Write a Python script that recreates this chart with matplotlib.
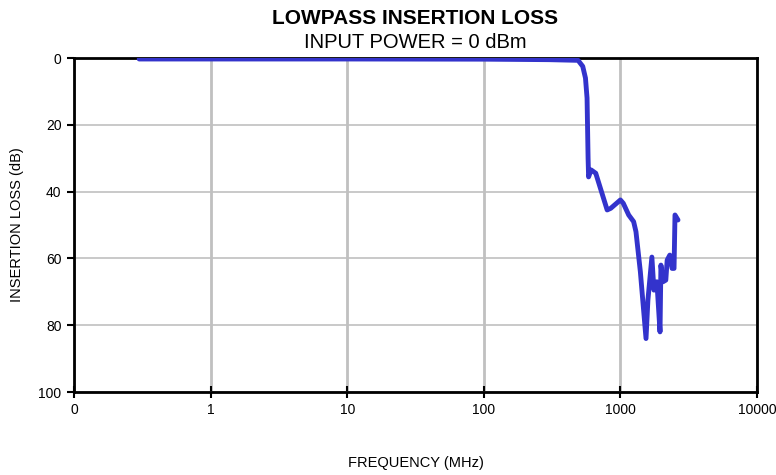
import matplotlib
matplotlib.use("Agg")
import matplotlib.pyplot as plt
from matplotlib.ticker import FixedLocator, NullLocator

plt.rcParams['font.family'] = ['Liberation Sans', 'DejaVu Sans']

# Frequency (MHz) and insertion loss (dB)
freq = [0.3, 1, 10, 100, 300, 490, 530, 555, 570, 580, 585, 610, 660,
        800, 850, 1000, 1050, 1150, 1250, 1300, 1400, 1540, 1590, 1700,
        1760, 1850, 1950, 1980, 2050, 2150, 2200, 2300, 2390, 2470, 2510, 2640]
loss = [0.3, 0.3, 0.3, 0.35, 0.5, 0.7, 2.5, 6, 12, 30, 35.6, 33.5, 34.5,
        45.5, 45, 42.5, 43.5, 47, 49, 52, 64, 84, 72.5, 59.6,
        69.5, 67, 82, 62, 67, 66.5, 60.5, 59, 63, 63, 47, 48.5]

x_ticks = [0.1, 1, 10, 100, 1000, 10000]
x_labels = ['0', '1', '10', '100', '1000', '10000']
y_ticks = [0, 20, 40, 60, 80, 100]

fig = plt.figure(figsize=(7.76, 4.75), dpi=100)
ax = fig.add_axes([74/776, 1-392/475, (757-74)/776, (392-58)/475])

ax.plot(freq, loss, color='#3333cc', linewidth=3.5, solid_joinstyle='round',
        solid_capstyle='round', zorder=3)

ax.set_xscale('log')
ax.set_xlim(0.1, 10000)
ax.set_ylim(100, 0)
ax.xaxis.set_major_locator(FixedLocator(x_ticks))
ax.xaxis.set_minor_locator(NullLocator())
ax.set_xticklabels(x_labels)
ax.set_yticks(y_ticks)

ax.grid(True, axis='x', color='#c0c0c0', linewidth=2)
ax.grid(True, axis='y', color='#c0c0c0', linewidth=1.2)
ax.set_axisbelow(True)

for s in ax.spines.values():
    s.set_linewidth(2)
    s.set_color('black')

ax.tick_params(axis='x', direction='inout', length=8, width=1.5, labelsize=10, pad=4)
ax.tick_params(axis='y', direction='out', length=5, width=1.5, labelsize=10, pad=4)

cx = (74 + 757) / 2 / 776
fig.text(cx, 1-463/475, 'FREQUENCY (MHz)', ha='center', va='center', fontsize=10.5)
fig.text(17/776, 1-225/475, 'INSERTION LOSS (dB)', ha='center', va='center',
         rotation=90, fontsize=10.5)

fig.text(cx, 1-18/475, 'LOWPASS INSERTION LOSS', ha='center', va='center',
         fontsize=15, fontweight='bold')
fig.text(cx, 1-42/475, 'INPUT POWER = 0 dBm', ha='center', va='center',
         fontsize=14.5)

fig.savefig('out.png', dpi=100)
